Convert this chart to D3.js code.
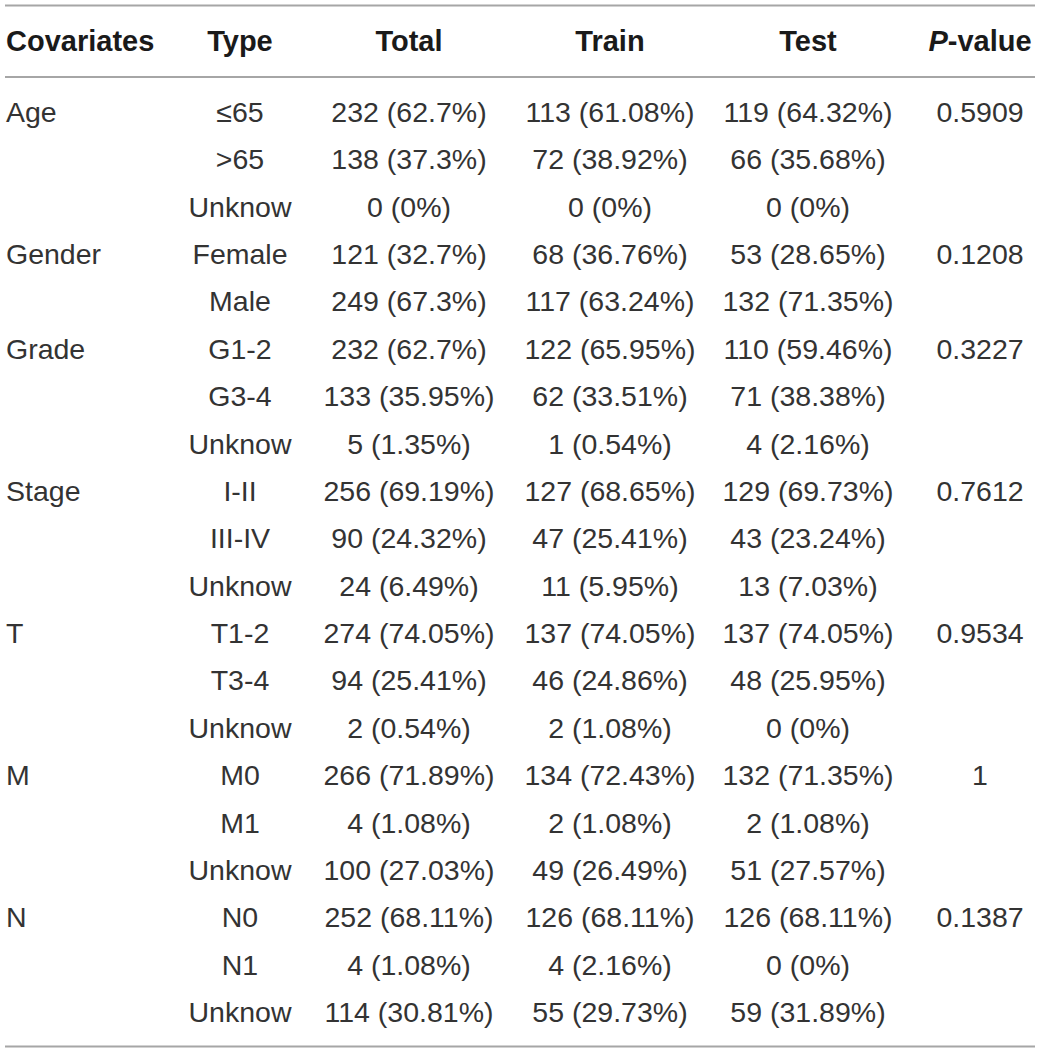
<!DOCTYPE html>
<html>
<head>
<meta charset="utf-8">
<script src="https://cdn.jsdelivr.net/npm/d3@7"></script>
<style>
  html, body { margin: 0; padding: 0; background: #fff; }
  text { font-family: "Liberation Sans", Arial, Helvetica, sans-serif; }
</style>
</head>
<body>
<div id="table"></div>
<script>
const dims = { "width": 1040, "height": 1053 };

const headers = ["Covariates", "Type", "Total", "Train", "Test", "P-value"];
const covariates = ["Age", "", "", "Gender", "", "Grade", "", "", "Stage", "", "", "T", "", "", "M", "", "", "N", "", ""];
const types = ["≤65", ">65", "Unknow", "Female", "Male", "G1-2", "G3-4", "Unknow", "I-II", "III-IV", "Unknow",
  "T1-2", "T3-4", "Unknow", "M0", "M1", "Unknow", "N0", "N1", "Unknow"];
const total = ["232 (62.7%)", "138 (37.3%)", "0 (0%)", "121 (32.7%)", "249 (67.3%)", "232 (62.7%)", "133 (35.95%)",
  "5 (1.35%)", "256 (69.19%)", "90 (24.32%)", "24 (6.49%)", "274 (74.05%)", "94 (25.41%)", "2 (0.54%)",
  "266 (71.89%)", "4 (1.08%)", "100 (27.03%)", "252 (68.11%)", "4 (1.08%)", "114 (30.81%)"];
const train = ["113 (61.08%)", "72 (38.92%)", "0 (0%)", "68 (36.76%)", "117 (63.24%)", "122 (65.95%)", "62 (33.51%)",
  "1 (0.54%)", "127 (68.65%)", "47 (25.41%)", "11 (5.95%)", "137 (74.05%)", "46 (24.86%)", "2 (1.08%)",
  "134 (72.43%)", "2 (1.08%)", "49 (26.49%)", "126 (68.11%)", "4 (2.16%)", "55 (29.73%)"];
const test = ["119 (64.32%)", "66 (35.68%)", "0 (0%)", "53 (28.65%)", "132 (71.35%)", "110 (59.46%)", "71 (38.38%)",
  "4 (2.16%)", "129 (69.73%)", "43 (23.24%)", "13 (7.03%)", "137 (74.05%)", "48 (25.95%)", "0 (0%)",
  "132 (71.35%)", "2 (1.08%)", "51 (27.57%)", "126 (68.11%)", "0 (0%)", "59 (31.89%)"];
const pvalues = ["0.5909", "", "", "0.1208", "", "0.3227", "", "", "0.7612", "", "", "0.9534", "", "", "1", "", "", "0.1387", "", ""];

const columns = [covariates, types, total, train, test, pvalues];
const rows = d3.range(types.length);

// column anchors: first column left-aligned, the rest centred
const x = d3.scaleOrdinal()
  .domain(headers)
  .range([6, 240, 409, 610, 808, 980]);
const anchor = h => h === "Covariates" ? "start" : "middle";

const y = d3.scalePoint()
  .domain(rows)
  .range([112, 1012]);

const svg = d3.select("#table")
  .append("svg")
  .attr("width", dims.width)
  .attr("height", dims.height);

// rules
svg.append("g")
  .selectAll("line")
  .data([5.5, 77, 1046.5])
  .join("line")
  .attr("x1", 5)
  .attr("x2", 1035)
  .attr("y1", d => d)
  .attr("y2", d => d)
  .attr("stroke", "#a6a6a6")
  .attr("stroke-width", 2);

// header
const head = svg.append("g")
  .selectAll("text")
  .data(headers)
  .join("text")
  .attr("x", d => x(d))
  .attr("y", 41)
  .attr("dy", "0.35em")
  .attr("text-anchor", anchor)
  .attr("font-size", 29)
  .attr("font-weight", "bold")
  .attr("fill", "#1a1a1a");
head.filter(d => d !== "P-value").text(d => d);
head.filter(d => d === "P-value")
  .call(t => t.append("tspan").attr("font-style", "italic").text("P"))
  .call(t => t.append("tspan").text("-value"));

// body
svg.append("g")
  .selectAll("g")
  .data(headers)
  .join("g")
  .each(function (h, ci) {
    d3.select(this)
      .selectAll("text")
      .data(rows.filter(r => columns[ci][r] !== ""))
      .join("text")
      .attr("x", x(h))
      .attr("y", r => y(r))
      .attr("dy", "0.35em")
      .attr("text-anchor", anchor(h))
      .attr("font-size", 28.5)
      .attr("fill", "#333")
      .text(r => columns[ci][r]);
  });
</script>
</body>
</html>
